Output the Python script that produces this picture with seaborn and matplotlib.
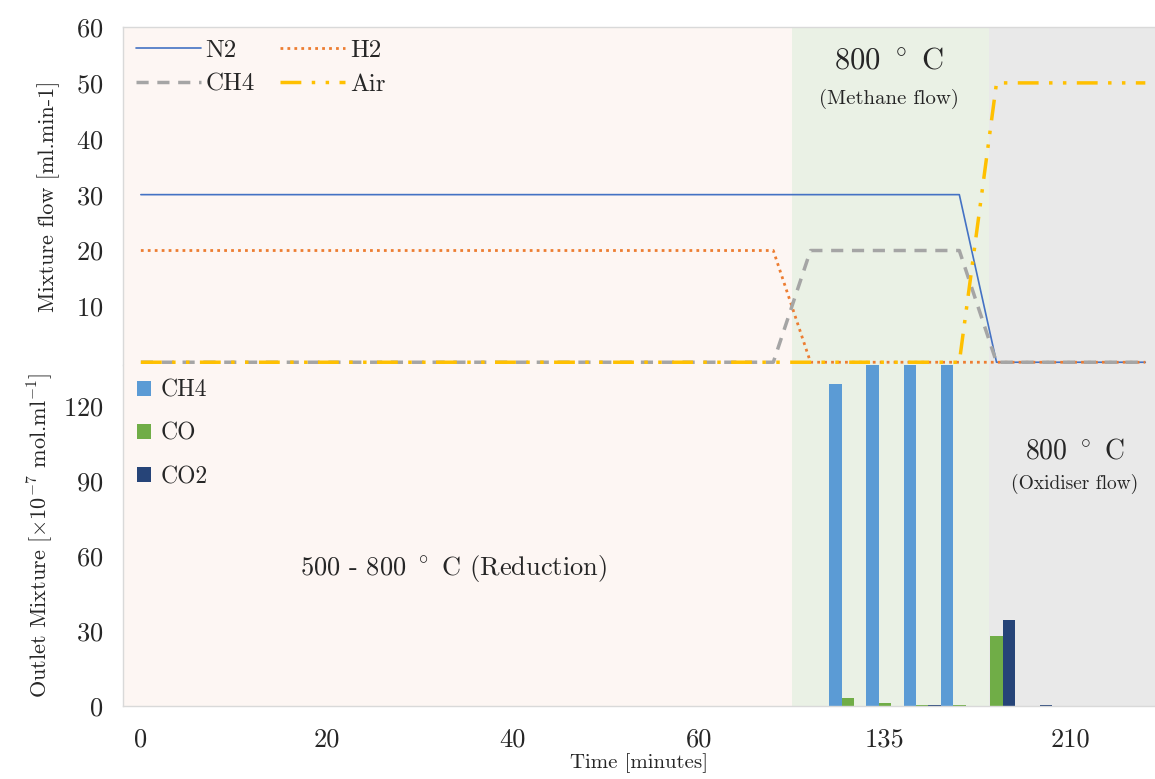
import numpy as np
import pandas as pd
import matplotlib
matplotlib.use('Agg')
import matplotlib.pyplot as plt
import seaborn as sns

# time axis (minutes) - one category per sample
times = [0, 4, 8, 12, 16, 20, 24, 28, 32, 36, 40, 44, 48, 52, 56, 60,
         75, 90, 105, 120, 135, 150, 165, 180, 195, 210, 225, 240]
tick_times = [0, 20, 40, 60, 135, 210]

# inlet mixture flow [ml/min]
n2 = [30]*23 + [0]*5
h2 = [20]*18 + [0]*10
ch4_in = [0]*18 + [20]*5 + [0]*5
air = [0]*23 + [50]*5

# outlet mixture [x1e-7 mol/ml]
ch4_out = [0]*19 + [129, 150, 150, 150, 0, 0] + [0]*3
co_out = [0]*19 + [3.3, 1.3, 0.5, 0.5, 28, 0] + [0]*3
co2_out = [0]*19 + [0, 0, 0.5, 0, 34.5, 0.6] + [0]*3

gases = ['CH4', 'CO', 'CO2']
bar_colors = ['#5B9BD5', '#70AD47', '#264478']

sns.set_style("white")
plt.rcParams['font.family'] = ['cmr10', 'DejaVu Serif']
plt.rcParams['mathtext.fontset'] = 'cm'
plt.rcParams['axes.formatter.use_mathtext'] = True

fig = plt.figure(figsize=(11.55, 7.79), dpi=100)
ax1 = fig.add_axes([0.1065, 0.5314, 0.8935, 0.4339])
ax2 = fig.add_axes([0.1065, 0.0937, 0.8935, 0.4377])

idx = np.arange(len(times))
xlo, xhi = -0.48, 27.26

for ax in (ax1, ax2):
    ax.axvspan(xlo, 17.5, color='#fdf6f3', zorder=0, lw=0)
    ax.axvspan(17.5, 22.8, color='#eaf1e5', zorder=0, lw=0)
    ax.axvspan(22.8, xhi, color='#e9e9e9', zorder=0, lw=0)

# top panel: flows
lines = [
    ('N2', n2, '#4472C4', '-', 1.2),
    ('H2', h2, '#ED7D31', (0, (1, 1.5)), 2.0),
    ('CH4', ch4_in, '#A5A5A5', (0, (3.5, 2.5)), 2.5),
    ('Air', air, '#FFC000', (0, (6, 3, 1, 3, 1, 3)), 2.5),
]
for name, vals, col, ls, lw in lines:
    sns.lineplot(x=idx, y=vals, ax=ax1, color=col, lw=lw, label=name)
    ax1.lines[-1].set_linestyle(ls)

ax1.set_xlim(xlo, xhi)
ax1.set_ylim(-0.5, 60)
ax1.set_yticks([10, 20, 30, 40, 50, 60])
ax1.set_xticks([])
ax1.set_ylabel('Mixture flow [ml.min-1]', fontsize=16, labelpad=12)
ax1.tick_params(axis='y', labelsize=19, length=0, pad=14)
handles, labels = ax1.get_legend_handles_labels()
order = [0, 2, 1, 3]
ax1.legend([handles[i] for i in order], [labels[i] for i in order],
           loc='upper left', ncol=2, frameon=False, fontsize=18,
           handlelength=2.6, columnspacing=1.0, labelspacing=0.45,
           handletextpad=0.2, borderaxespad=0.1, bbox_to_anchor=(0.0, 1.0))
ax1.text(20.1, 56.5, '800 $^\\circ$ C', ha='center', va='top', fontsize=22)
ax1.text(20.1, 49, '(Methane flow)', ha='center', va='top', fontsize=15)

# bottom panel: outlet bars
df = pd.DataFrame({
    'time': times * 3,
    'gas': ['CH4'] * len(times) + ['CO'] * len(times) + ['CO2'] * len(times),
    'value': ch4_out + co_out + co2_out,
})
sns.barplot(data=df, x='time', y='value', hue='gas', order=times,
            hue_order=gases, palette=bar_colors, width=1.0, ax=ax2,
            saturation=1, errorbar=None, linewidth=0)
ax2.set_xlim(xlo, xhi)
ax2.set_ylim(0, 136.4)
ax2.set_yticks([0, 30, 60, 90, 120])
ax2.set_xticks([times.index(t) for t in tick_times])
ax2.set_xticklabels([str(t) for t in tick_times])
ax2.tick_params(axis='both', labelsize=19, length=0)
ax2.tick_params(axis='y', pad=14)
ax2.tick_params(axis='x', pad=16)
ax2.set_xlabel('Time [minutes]', fontsize=15, labelpad=1)
ax2.set_ylabel('Outlet Mixture [$\\times$10$^{-7}$ mol.ml$^{-1}$]', fontsize=16, labelpad=6)
ax2.legend(loc='upper left', frameon=False, fontsize=17, handlelength=0.6,
           handleheight=0.6, labelspacing=0.9, handletextpad=0.4,
           borderaxespad=0.2, bbox_to_anchor=(0.0, 1.0))
ax2.text(8.4, 55, '500 - 800 $^\\circ$ C (Reduction)', ha='center', va='center', fontsize=19)
ax2.text(25.1, 102, '800 $^\\circ$ C', ha='center', va='center', fontsize=20)
ax2.text(25.1, 89, '(Oxidiser flow)', ha='center', va='center', fontsize=14)

for ax in (ax1, ax2):
    for s in ax.spines.values():
        s.set_color('#d9d9d9')
        s.set_linewidth(1)
    ax.spines['right'].set_visible(False)
ax1.spines['bottom'].set_visible(False)
ax2.spines['top'].set_visible(False)

fig.savefig('out.png', dpi=100)
